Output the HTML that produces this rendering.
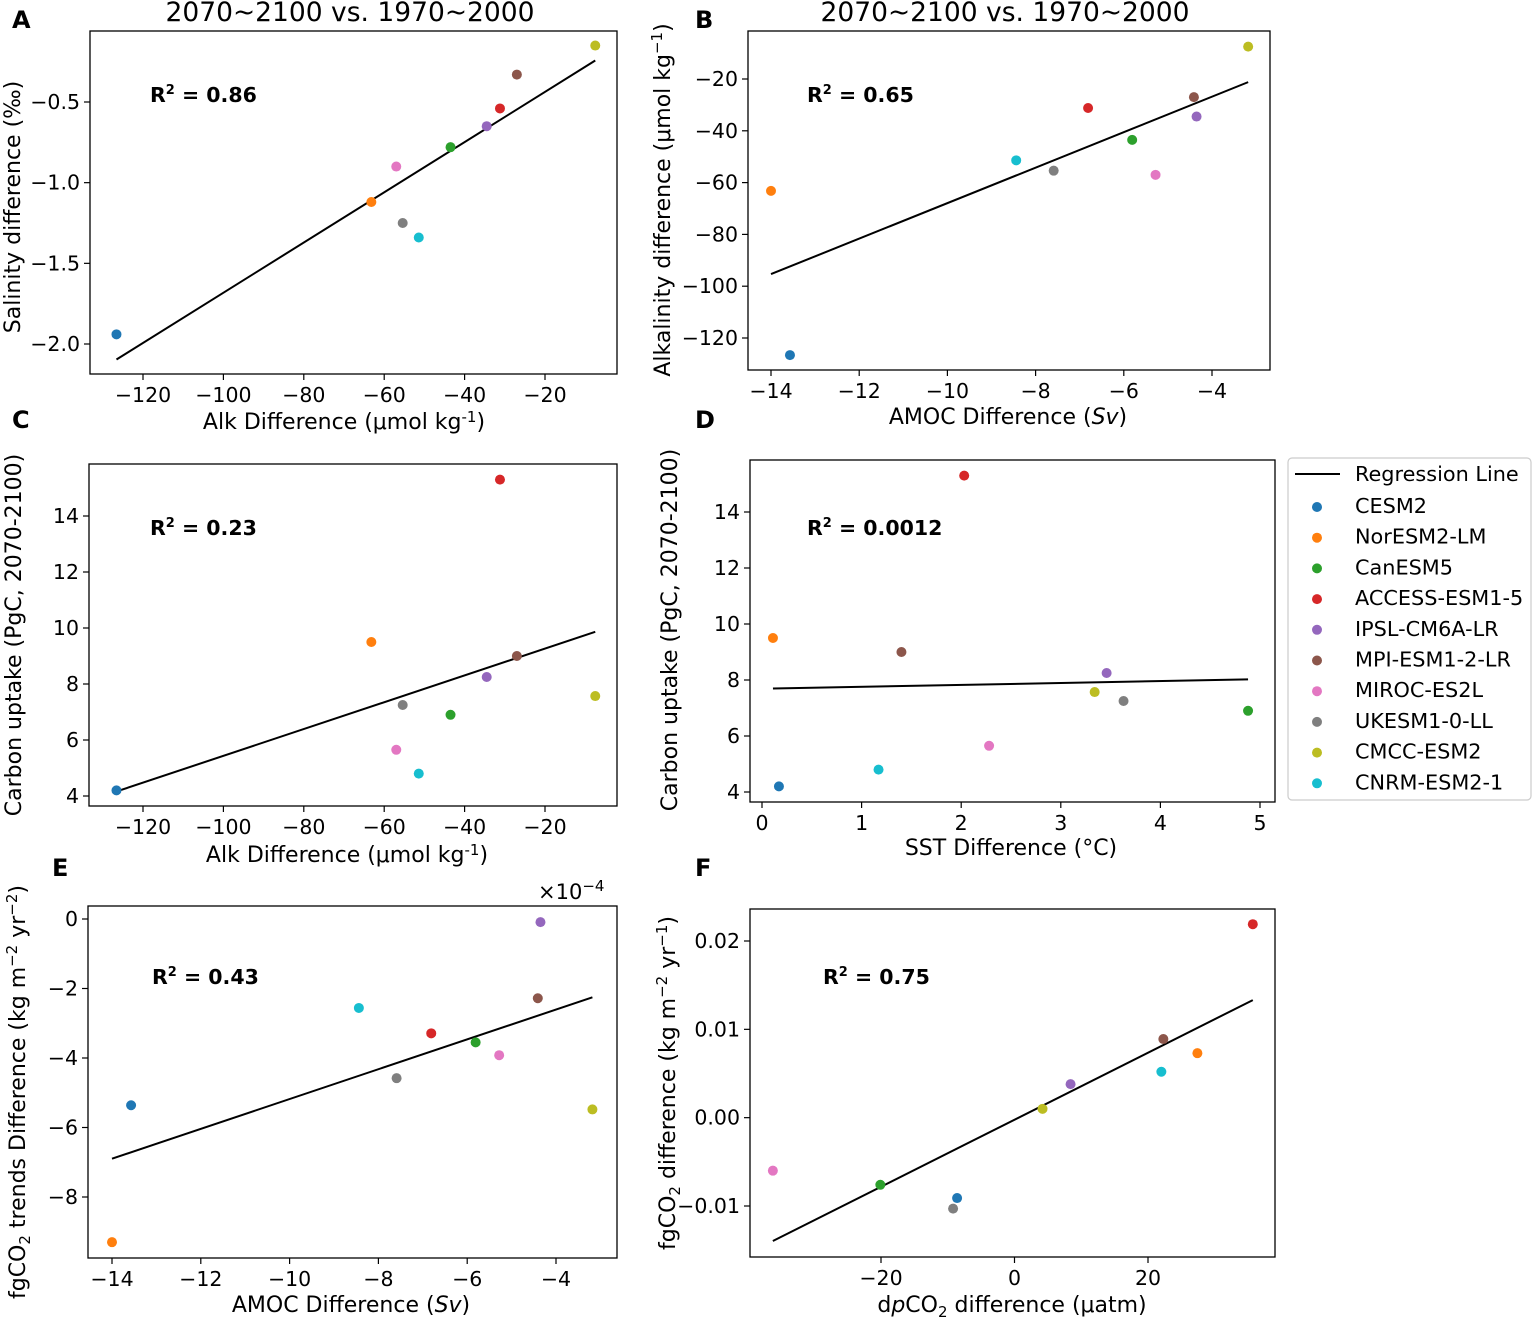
<!DOCTYPE html>
<html><head><meta charset="utf-8"><style>
html,body{margin:0;padding:0;background:#fff}
svg{display:block;font-family:"DejaVu Sans","Liberation Sans",sans-serif}
</style></head><body>
<svg id="fig" width="1535" height="1319" viewBox="0 0 1535 1319" xmlns="http://www.w3.org/2000/svg"></svg>
<script>
const models = ["CESM2","NorESM2-LM","CanESM5","ACCESS-ESM1-5","IPSL-CM6A-LR","MPI-ESM1-2-LR","MIROC-ES2L","UKESM1-0-LL","CMCC-ESM2","CNRM-ESM2-1"];
const alkDiff = [-126.6,-63.2,-43.5,-31.2,-34.5,-27.0,-57.0,-55.4,-7.5,-51.4];
const salDiff = [-1.94,-1.12,-0.78,-0.54,-0.65,-0.33,-0.90,-1.25,-0.15,-1.34];
const amocDiff = [-13.57,-14.0,-5.81,-6.81,-4.35,-4.41,-5.28,-7.59,-3.18,-8.44];
const carbonUptake = [4.2,9.5,6.9,15.3,8.25,9.0,5.65,7.25,7.57,4.8];
const sstDiff = [0.17,0.11,4.88,2.03,3.46,1.40,2.28,3.63,3.34,1.17];
const fgTrend = [-5.36,-9.3,-3.55,-3.29,-0.09,-2.28,-3.92,-4.58,-5.48,-2.56];
const dpco2Diff = [-8.6,27.4,-20.1,35.7,8.4,22.3,-36.2,-9.2,4.2,22.0];
const fgDiff = [-0.0091,0.0073,-0.0076,0.0219,0.0038,0.0089,-0.0060,-0.0103,0.0010,0.0052];
const colors = ["#1f77b4","#ff7f0e","#2ca02c","#d62728","#9467bd","#8c564b","#e377c2","#7f7f7f","#bcbd22","#17becf"];
const xTicksAlk = [-120,-100,-80,-60,-40,-20];
const yTicksSal = [-0.5,-1.0,-1.5,-2.0];
const xTicksAmoc = [-14,-12,-10,-8,-6,-4];
const yTicksAlk = [-20,-40,-60,-80,-100,-120];
const yTicksCarbon = [4,6,8,10,12,14];
const xTicksSst = [0,1,2,3,4,5];
const yTicksTrend = [0,-2,-4,-6,-8];
const xTicksDp = [-20,0,20];
const yTicksFg = [0.02,0.01,0.00,-0.01];

const NS="http://www.w3.org/2000/svg";
const svg=document.getElementById('fig');
const TF=20.5, LF=22;
function el(tag,attrs,parent,text){const e=document.createElementNS(NS,tag);for(const k in attrs)e.setAttribute(k,attrs[k]);if(text!==undefined)e.innerHTML=text;(parent||svg).appendChild(e);return e;}
function fmt(v,dec){let s=v.toFixed(dec);if(v<0||s.startsWith('-'))s='−'+s.replace('-','');if(s==='−0'||s==='−0.00')s=s.slice(1);return s;}

function panel(p){
  const g=el('g',{},svg);
  
  
  const sx=v=>p.x0p+(v-p.x0v)*(p.x1p-p.x0p)/(p.x1v-p.x0v);
  const sy=v=>p.y0p+(v-p.y0v)*(p.y1p-p.y0p)/(p.y1v-p.y0v);
  const r=el('rect',{x:p.box[0],y:p.box[1],width:p.box[2]-p.box[0],height:p.box[3]-p.box[1],fill:'none',stroke:'#000','stroke-width':1.3},g);
  
  p.xt.forEach(t=>{const x=sx(t);
    el('line',{x1:x,x2:x,y1:p.box[3],y2:p.box[3]+6,stroke:'#000','stroke-width':1.2},g);
    const tx=el('text',{x:x,y:p.box[3]+28,'font-size':TF,'text-anchor':'middle'},g,fmt(t,p.xdec));
    });
  p.yt.forEach(t=>{const y=sy(t);
    el('line',{x1:p.box[0]-6,x2:p.box[0],y1:y,y2:y,stroke:'#000','stroke-width':1.2},g);
    const tx=el('text',{x:p.box[0]-10,y:y+7,'font-size':TF,'text-anchor':'end'},g,fmt(t,p.ydec));
    });
  const X=p.xs,Y=p.ys,n=X.length;let mx=0,my=0;for(let i=0;i<n;i++){mx+=X[i];my+=Y[i];}mx/=n;my/=n;
  let sxy=0,sxx=0;for(let i=0;i<n;i++){sxy+=(X[i]-mx)*(Y[i]-my);sxx+=(X[i]-mx)**2;}
  const b=sxy/sxx,a=my-b*mx;const xmin=Math.min(...X),xmax=Math.max(...X);
  const ln=el('line',{x1:sx(xmin),y1:sy(a+b*xmin),x2:sx(xmax),y2:sy(a+b*xmax),stroke:'#000','stroke-width':2},g);
  
  for(let i=0;i<n;i++){const c=el('circle',{cx:sx(X[i]),cy:sy(Y[i]),r:5,fill:colors[i]},g);
    }
  const r2=el('text',{x:p.r2[0],y:p.r2[1],'font-size':20.5,'font-weight':'bold'},g,p.r2t);
  
  const xl=el('text',{x:p.xl[0],y:p.xl[1],'font-size':LF,'text-anchor':'middle'},g,p.xlt);
  
  const yl=el('text',{x:0,y:0,'font-size':LF,'text-anchor':'middle',transform:`translate(${p.yl[0]},${p.yl[1]}) rotate(-90)`},g,p.ylt);
  
  const lt=el('text',{x:p.letter[0],y:p.letter[1],'font-size':24,'font-weight':'bold'},g,p.lt);
  
}
const R2='R<tspan font-size="13" dy="-8">2</tspan><tspan dy="8"> = </tspan>';
panel({name:'panel-a',box:[90,31,617,374],x0v:-120,x0p:143,x1v:-20,x1p:545,y0v:-0.5,y0p:102,y1v:-2.0,y1p:344,
  xt:xTicksAlk,yt:yTicksSal,xdec:0,ydec:1,xs:alkDiff,ys:salDiff,r2:[150,102],r2t:R2+'0.86',
  xl:[344,429],xlt:'Alk Difference (μmol kg<tspan font-size="15" dy="-7">-1</tspan><tspan dy="7">)</tspan>',yl:[20,207],ylt:'Salinity difference (‰)',letter:[12,28],lt:'A'});
panel({name:'panel-b',box:[748,31,1270,370],x0v:-14,x0p:771,x1v:-4,x1p:1212,y0v:-20,y0p:79,y1v:-120,y1p:338,
  xt:xTicksAmoc,yt:yTicksAlk,xdec:0,ydec:0,xs:amocDiff,ys:alkDiff,r2:[807,102],r2t:R2+'0.65',
  xl:[1008,424],xlt:'AMOC Difference (<tspan font-style="italic">Sv</tspan>)',yl:[670,200],ylt:'Alkalinity difference (μmol kg<tspan font-size="15" dy="-8">−1</tspan><tspan dy="8">)</tspan>',letter:[695,28],lt:'B'});
panel({name:'panel-c',box:[89,464,617,806],x0v:-120,x0p:143,x1v:-20,x1p:545,y0v:14,y0p:516,y1v:4,y1p:796,
  xt:xTicksAlk,yt:yTicksCarbon,xdec:0,ydec:0,xs:alkDiff,ys:carbonUptake,r2:[150,535],r2t:R2+'0.23',
  xl:[347,862],xlt:'Alk Difference (μmol kg<tspan font-size="15" dy="-7">-1</tspan><tspan dy="7">)</tspan>',yl:[21,635],ylt:'Carbon uptake (PgC, 2070-2100)',letter:[12,428],lt:'C'});
panel({name:'panel-d',box:[750,460,1275,802],x0v:0,x0p:762,x1v:5,x1p:1260,y0v:14,y0p:512,y1v:4,y1p:792,
  xt:xTicksSst,yt:yTicksCarbon,xdec:0,ydec:0,xs:sstDiff,ys:carbonUptake,r2:[807,535],r2t:R2+'0.0012',
  xl:[1011,855],xlt:'SST Difference (°C)',yl:[677,630],ylt:'Carbon uptake (PgC, 2070-2100)',letter:[695,428],lt:'D'});
panel({name:'panel-e',box:[88,906,617,1258],x0v:-14,x0p:112,x1v:-4,x1p:556,y0v:0,y0p:919,y1v:-8,y1p:1197,
  xt:xTicksAmoc,yt:yTicksTrend,xdec:0,ydec:0,xs:amocDiff,ys:fgTrend,r2:[152,984],r2t:R2+'0.43',
  xl:[351,1312],xlt:'AMOC Difference (<tspan font-style="italic">Sv</tspan>)',yl:[25,1092],ylt:'fgCO<tspan font-size="15" dy="5">2</tspan><tspan dy="-5"> trends Difference (kg m</tspan><tspan font-size="15" dy="-8">−2</tspan><tspan dy="8"> yr</tspan><tspan font-size="15" dy="-8">−2</tspan><tspan dy="8">)</tspan>',letter:[52,876],lt:'E'});
panel({name:'panel-f',box:[750,909,1275,1257],x0v:-20,x0p:881,x1v:20,x1p:1148,y0v:0.02,y0p:941,y1v:-0.01,y1p:1206,
  xt:xTicksDp,yt:yTicksFg,xdec:0,ydec:2,xs:dpco2Diff,ys:fgDiff,r2:[823,984],r2t:R2+'0.75',
  xl:[1012,1312],xlt:'d<tspan font-style="italic">p</tspan>CO<tspan font-size="15" dy="5">2</tspan><tspan dy="-5"> difference (μatm)</tspan>',yl:[675,1083],ylt:'fgCO<tspan font-size="15" dy="5">2</tspan><tspan dy="-5"> difference (kg m</tspan><tspan font-size="15" dy="-8">−2</tspan><tspan dy="8"> yr</tspan><tspan font-size="15" dy="-8">−1</tspan><tspan dy="8">)</tspan>',letter:[695,876],lt:'F'});

let t=el('text',{x:350,y:21,'font-size':26.5,'text-anchor':'middle'},svg,'2070~2100 vs. 1970~2000');

t=el('text',{x:1005,y:21,'font-size':26.5,'text-anchor':'middle'},svg,'2070~2100 vs. 1970~2000');

t=el('text',{x:538,y:899,'font-size':21},svg,'×10<tspan font-size="15" dy="-8">−4</tspan>');


const lg=el('g',{},svg);


el('rect',{x:1288,y:458,width:243,height:342,rx:4,fill:'#fff',stroke:'#ccc','stroke-width':1.2},lg);
el('line',{x1:1295,x2:1340,y1:474,y2:474,stroke:'#000','stroke-width':2},lg);
t=el('text',{x:1355,y:481,'font-size':20.8},lg,'Regression Line');

models.forEach((m,i)=>{const y=506+i*30.7;
  el('circle',{cx:1317,cy:y+1,r:5,fill:colors[i]},lg);
  const tx=el('text',{x:1355,y:y+7,'font-size':20.8},lg,m);
  });
</script>
</body></html>
